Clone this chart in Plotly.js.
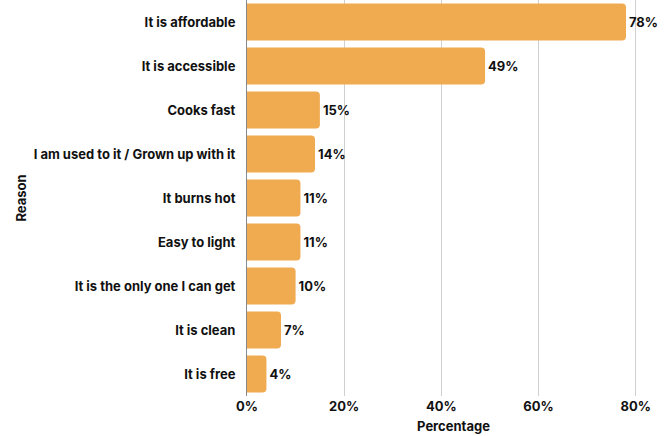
<!DOCTYPE html>
<html><head><meta charset="utf-8">
<script src="https://cdn.plot.ly/plotly-3.0.1.min.js"></script>
<style>html,body{margin:0;padding:0;background:#fff}</style>
</head><body><div id="chart" style="width:670px;height:436px"></div>
<script>
const reasons = ["It is affordable","It is accessible","Cooks fast","I am used to it / Grown up with it","It burns hot","Easy to light","It is the only one I can get","It is clean","It is free"];
const percentages = [78,49,15,14,11,11,10,7,4];
const tickVals = [0,20,40,60,80];
const tickText = ["0%","20%","40%","60%","80%"];

const fontFam = "Inter, Roboto, sans-serif";
Plotly.newPlot("chart", [{
  type: "bar",
  orientation: "h",
  y: reasons,
  x: percentages,
  text: percentages.map(v => v + "%"),
  textposition: "outside",
  cliponaxis: false,
  textfont: {family: fontFam, size: 13, color: "#111", weight: 700},
  marker: {color: "#F0AA50", cornerradius: 4},
  hoverinfo: "none"
}], {
  width: 670, height: 436,
  margin: {l: 247, r: 10, t: 0, b: 40},
  paper_bgcolor: "#fff", plot_bgcolor: "#fff",
  bargap: 0.16,
  font: {family: fontFam, size: 13, color: "#111", weight: 700},
  xaxis: {
    range: [0, 85],
    tickvals: tickVals, ticktext: tickText,
    showgrid: true, gridcolor: "#d0d0d0", gridwidth: 1,
    zeroline: false,
    ticks: "", ticklabelstandoff: 1, fixedrange: true,
    title: {text: "Percentage", font: {family: fontFam, size: 13, weight: 700}, standoff: 8}
  },
  yaxis: {
    autorange: "reversed",
    showline: true, linecolor: "#888", linewidth: 1,
    ticks: "", ticklabelstandoff: 8,
    title: {text: "Reason", font: {family: fontFam, size: 13, weight: 700}, standoff: 4},
    automargin: false
  },
  showlegend: false
}, {displayModeBar: false, staticPlot: true});
</script></body></html>
